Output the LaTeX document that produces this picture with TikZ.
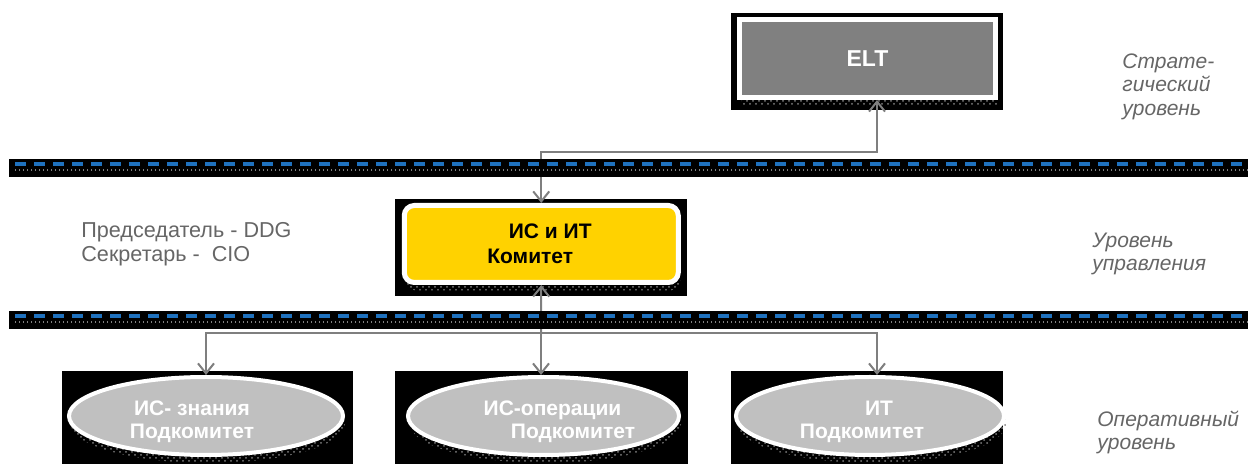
\documentclass[tikz,border=0pt]{standalone}
\usepackage{fontspec}
\setmainfont{Liberation Sans}
\usetikzlibrary{arrows.meta,shapes.geometric,shadows,patterns}
\definecolor{eltgray}{HTML}{808080}
\definecolor{icyellow}{HTML}{FFD200}
\definecolor{subgray}{HTML}{C0C0C0}
\definecolor{linegray}{HTML}{7F7F7F}
\definecolor{notegray}{HTML}{666666}
\definecolor{dashblue}{HTML}{1F72BF}
\newcommand\pad[1]{\rule{#1}{0pt}}
\newcommand\lift{\rule{0pt}{13.5pt}}
\tikzset{%
  >={Straight Barb[length=5pt,width=8pt]},
  % Specifications for style of nodes:
       backing/.style = {fill=black},
       stipple/.style = {general shadow={shadow xshift=1pt, shadow yshift=-4pt,
                           pattern=crosshatch dots, pattern color=gray}},
          base/.style = {draw=white, line width=2.5pt, text=white, align=center,
                           inner sep=0pt, font=\fontsize{10.5}{11.5}\selectfont\bfseries},
        eltbox/.style = {base, rectangle, fill=eltgray, minimum width=128pt,
                           minimum height=39pt, stipple, font=\fontsize{11.5}{12}\selectfont\bfseries},
         icbox/.style = {base, rectangle, rounded corners=5pt, fill=icyellow, text=black,
                           minimum width=137pt, minimum height=38.5pt, stipple,
                           font=\fontsize{10.5}{12.5}\selectfont\bfseries},
        subbox/.style = {base, ellipse, line width=2pt, fill=subgray,
                           minimum height=39pt, stipple},
         level/.style = {anchor=west, inner sep=0pt, align=left, text=notegray,
                           font=\fontsize{10.5}{11.75}\selectfont\itshape},
         chair/.style = {anchor=west, inner sep=0pt, align=left, text=notegray,
                           font=\fontsize{10.8}{12}\selectfont},
          conn/.style = {draw=linegray, line width=1pt},
          band/.style = {fill=black},
      bluedash/.style = {draw=dashblue, line width=1.75pt, dash pattern=on 5.5pt off 4pt},
        dotrow/.style = {draw=gray, line width=1pt, dash pattern=on 0.5pt off 1.5pt},
}

\begin{document}
\begin{tikzpicture}[x=0.5pt, y=-0.5pt]
  \useasboundingbox (0,0) rectangle (1248,464);

  % black backings behind the boxes
  \fill[backing] (731,13) rectangle (1003,110);
  \fill[backing] (395,199) rectangle (687,296);
  \fill[backing] (62,371) rectangle (353,464);
  \fill[backing] (395,371) rectangle (688,464);
  \fill[backing] (731,371) rectangle (1003,464);

  % boxes
  \node (elt)  [eltbox] at (867.5,58.5) {ELT};
  \node (ic)   [icbox]  at (541.25,244) {\pad{9pt}ИС и ИТ\\Комитет\pad{11pt}};
  \node (ks)   [subbox, minimum width=137pt]   at (206,416)   {\lift ИС- знания\pad{14pt}\\Подкомитет\pad{14pt}};
  \node (ops)  [subbox, minimum width=135.5pt] at (543.5,416) {\lift\pad{9pt}ИС-операции\\\pad{29.5pt}Подкомитет};
  \node (it)   [subbox, minimum width=134pt]   at (870,416)   {\lift\pad{9pt}ИТ\\Подкомитет\pad{8pt}};

  % bus points
  \coordinate (bus)  at (541,333);
  \coordinate (busR) at (877,333);

  % connectors
  \draw[conn, <->] (elt.south -| busR) -- ++(0,52) -| (ic.north);
  \draw[conn, ->]  (bus) -- (ic.south);
  \draw[conn, ->]  (bus) -| (ks.north);
  \draw[conn, ->]  (bus) -- (bus |- ops.north);
  \draw[conn, ->]  (bus) -- (busR) -- (busR |- it.north);

  % level bands
  \fill[band] (9,159) rectangle (1248,177);
  \draw[bluedash] (15,164) -- (1248,164);
  \draw[dotrow] (15,170.5) -- (1248,170.5);
  \fill[band] (9,311) rectangle (1248,329);
  \draw[bluedash] (15,316) -- (1248,316);
  \draw[dotrow] (15,322.5) -- (1248,322.5);

  % notes
  \node (chairs) [chair] at (81,244) {Председатель - DDG\\Секретарь -\ \ CIO};
  \node (strat)  [level] at (1122,86.5) {Страте-\\гический\\уровень};
  \node (mgmt)   [level] at (1092,254)  {Уровень\\управления};
  \node (oper)   [level] at (1097,432.5) {Оперативный\\уровень};
\end{tikzpicture}
\end{document}
